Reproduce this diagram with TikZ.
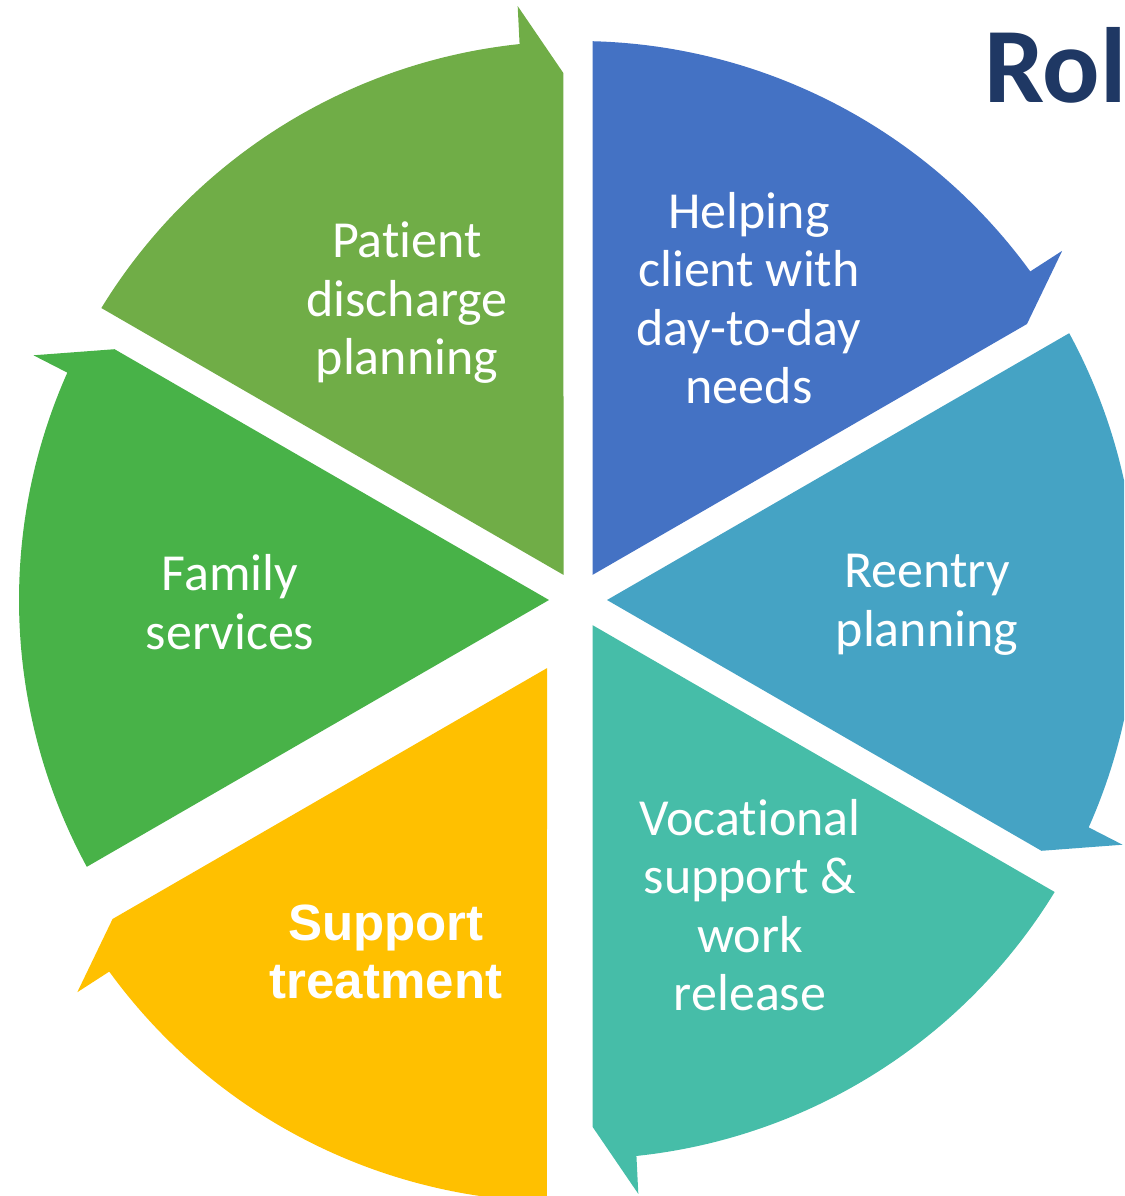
\documentclass[tikz,border=0pt]{standalone}
\usepackage{fontspec}
\setmainfont{Carlito}[Ligatures={NoCommon,NoContextual}]
\newfontfamily\arialfont{Liberation Sans}
\definecolor{segolive}{HTML}{70AD47}
\definecolor{segblue}{HTML}{4472C4}
\definecolor{segsky}{HTML}{45A3C4}
\definecolor{segteal}{HTML}{46BDA8}
\definecolor{segyellow}{HTML}{FFC000}
\definecolor{seggreen}{HTML}{48B248}
\definecolor{titlenavy}{HTML}{1F3864}
% #1 colour, #2 head angle, #3 centre
\newcommand\cyclesegment[3]{%
  \fill[#1] ([shift={#3}]{#2+30}:29)
    -- ([shift={#3}]{#2+1.58}:527)
    -- ([shift={#3}]{#2+5.8}:597)
    -- ([shift={#3}]{#2+6}:559)
    arc[start angle={#2+6}, end angle={#2+58.51}, radius=559]
    -- cycle;}
\begin{document}
\begin{tikzpicture}[x=1pt,y=1pt,
  lbl/.style={text=white, align=center, inner sep=0pt,
    font=\fontsize{52}{58.5}\selectfont}]
\useasboundingbox (0,0) rectangle (1124,-1196);
\clip (0,0) rectangle (1124,-1196);
\cyclesegment{segolive}{90}{(578,-600)}
\cyclesegment{segblue}{30}{(578,-600)}
\cyclesegment{segsky}{-30}{(578,-600)}
\cyclesegment{segteal}{-90}{(578,-600)}
\cyclesegment{segyellow}{-150}{(561.5,-643)}
\cyclesegment{seggreen}{150}{(578,-600)}
\node[lbl] (patient) at (407,-303) {Patient\\discharge\\planning};
\node[lbl] (helping) at (749,-298) {Helping\\client with\\day-to-day\\needs};
\node[lbl] (reentry) at (927,-605) {Reentry\\planning};
\node[lbl] (family) at (230,-602) {Family\\services};
\node[lbl] (vocational) at (750,-905) {Vocational\\support \&\\work\\release};
\node[lbl, font=\fontsize{51}{58.5}\arialfont\bfseries] (support) at (386,-952) {Support\\treatment};
\node[anchor=base west, inner sep=0pt, text=titlenavy,
  font=\fontsize{107}{120}\selectfont\bfseries] (title) at (984,-103) {Rol};
\end{tikzpicture}
\end{document}
